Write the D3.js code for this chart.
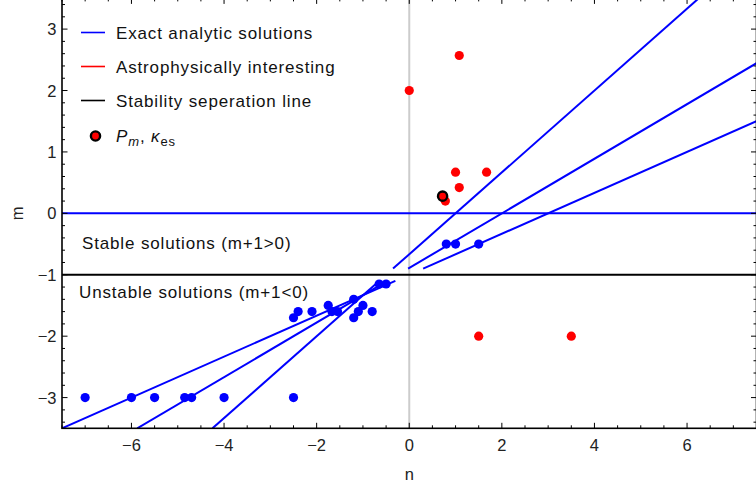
<!DOCTYPE html>
<html><head><meta charset="utf-8">
<script src="https://cdn.jsdelivr.net/npm/d3@7"></script>
<style>
body{margin:0;background:#fff;}
svg{display:block;font-family:"Liberation Sans",Arial,sans-serif;}
</style></head>
<body><div id="chart"></div>
<script>
// ---- data ----
const blueN = [-7, -6, -5.5, -4.85, -4.7, -4, -2.5,
               -2.5, -2.4, -2.1, -1.75, -1.67, -1.55, -1.2, -1.2, -1.1, -1.0, -0.8, -0.65, -0.5,
               0.8, 1.0, 1.5];
const blueM = [-3, -3, -3, -3, -3, -3, -3,
               -1.7, -1.6, -1.6, -1.5, -1.6, -1.6, -1.4, -1.7, -1.6, -1.5, -1.6, -1.15, -1.15,
               -0.5, -0.5, -0.5];
const redN = [0, 1.08, 1.0, 1.67, 1.08, 0.78, 1.5, 3.5];
const redM = [2, 2.57, 0.67, 0.67, 0.42, 0.2, -2, -2];
const pmN = [0.72];
const pmM = [0.28];
// exact analytic solutions: m = slope * (n - root)
const lineRoots = [1, 2, 3];
const lineSlopes = [2/3, 4/9, 1/3];
const segmentMRanges = [[-3.5, -1.1], [-0.9, 3.6]];
const horizLines = [{m: 0, color: "#0000ff"}, {m: -1, color: "#000000"}];
const xMajor = [-6, -4, -2, 0, 2, 4, 6];
const yMajor = [-3, -2, -1, 0, 1, 2, 3];
const legendLabels = ["Exact analytic solutions", "Astrophysically interesting", "Stability seperation line"];
const legendColors = ["#0000ff", "#ff0000", "#000000"];

// ---- layout ----
const W = 756, H = 487;
const x = d3.scaleLinear().domain([-7.5, 7.5]).range([62, 756.5]);
const y = d3.scaleLinear().domain([-3.5, 3.5]).range([428.3, -1.6]);

const svg = d3.select("#chart").append("svg").attr("width", W).attr("height", H);
svg.append("defs").append("clipPath").attr("id", "clip")
  .append("rect").attr("x", x(-7.5)).attr("y", y(3.5)).attr("width", x(7.5) - x(-7.5)).attr("height", y(-3.5) - y(3.5));

const plot = svg.append("g").attr("clip-path", "url(#clip)");

// grey axis line at n=0
plot.append("line").attr("x1", x(0)).attr("x2", x(0)).attr("y1", y(-3.5)).attr("y2", y(3.5))
  .attr("stroke", "#cccccc").attr("stroke-width", 2);

// horizontal lines
horizLines.forEach(h => {
  plot.append("line").attr("x1", x(-7.5)).attr("x2", x(7.5)).attr("y1", y(h.m)).attr("y2", y(h.m))
    .attr("stroke", h.color).attr("stroke-width", 2);
});

// analytic solution lines
lineRoots.forEach((r, i) => {
  const s = lineSlopes[i];
  segmentMRanges.forEach(([m0, m1]) => {
    plot.append("line")
      .attr("x1", x(r + m0 / s)).attr("y1", y(m0))
      .attr("x2", x(r + m1 / s)).attr("y2", y(m1))
      .attr("stroke", "#0000ff").attr("stroke-width", 2);
  });
});

// points
plot.selectAll("circle.blue").data(blueN).enter().append("circle")
  .attr("cx", d => x(d)).attr("cy", (d, i) => y(blueM[i])).attr("r", 4.6).attr("fill", "#0000ff");
plot.selectAll("circle.red").data(redN).enter().append("circle")
  .attr("cx", d => x(d)).attr("cy", (d, i) => y(redM[i])).attr("r", 4.6).attr("fill", "#ff0000");
plot.selectAll("circle.pm").data(pmN).enter().append("circle")
  .attr("cx", d => x(d)).attr("cy", (d, i) => y(pmM[i])).attr("r", 4.6)
  .attr("fill", "#ff0000").attr("stroke", "#000").attr("stroke-width", 2.4);

// frame
const fx0 = x(-7.5), fx1 = x(7.5), fy0 = y(3.5), fy1 = y(-3.5);
svg.append("rect").attr("x", fx0).attr("y", fy0).attr("width", fx1 - fx0).attr("height", fy1 - fy0)
  .attr("fill", "none").attr("stroke", "#000").attr("stroke-width", 1.6);

// ticks
const xMinor = d3.range(-7.5, 7.51, 0.5).filter(v => !xMajor.includes(v));
const yMinor = d3.range(-3.4, 3.41, 0.2).map(v => Math.round(v * 10) / 10).filter(v => !yMajor.includes(v));
const tg = svg.append("g").attr("stroke", "#000").attr("stroke-width", 1);
xMajor.forEach(v => {
  tg.append("line").attr("x1", x(v)).attr("x2", x(v)).attr("y1", fy1).attr("y2", fy1 - 5.5);
  tg.append("line").attr("x1", x(v)).attr("x2", x(v)).attr("y1", fy0).attr("y2", fy0 + 5.5);
});
xMinor.forEach(v => {
  tg.append("line").attr("x1", x(v)).attr("x2", x(v)).attr("y1", fy1).attr("y2", fy1 - 3);
  tg.append("line").attr("x1", x(v)).attr("x2", x(v)).attr("y1", fy0).attr("y2", fy0 + 3);
});
yMajor.forEach(v => {
  tg.append("line").attr("x1", fx0).attr("x2", fx0 + 5.5).attr("y1", y(v)).attr("y2", y(v));
  tg.append("line").attr("x1", fx1).attr("x2", fx1 - 5.5).attr("y1", y(v)).attr("y2", y(v));
});
yMinor.forEach(v => {
  tg.append("line").attr("x1", fx0).attr("x2", fx0 + 3).attr("y1", y(v)).attr("y2", y(v));
  tg.append("line").attr("x1", fx1).attr("x2", fx1 - 3).attr("y1", y(v)).attr("y2", y(v));
});

// tick labels
const fmt = v => (v < 0 ? "\u2212" + Math.abs(v) : String(v));
svg.append("g").selectAll("text").data(xMajor).enter().append("text")
  .attr("x", d => x(d)).attr("y", 451).attr("text-anchor", "middle")
  .attr("font-size", 16.5).attr("fill", "#222").text(fmt);
svg.append("g").selectAll("text").data(yMajor).enter().append("text")
  .attr("x", 56.5).attr("y", d => y(d) + 6).attr("text-anchor", "end")
  .attr("font-size", 16.5).attr("fill", "#222").text(fmt);

// axis titles
svg.append("text").attr("x", x(0)).attr("y", 480).attr("text-anchor", "middle")
  .attr("font-size", 16.5).attr("fill", "#222").text("n");
svg.append("text").attr("transform", `translate(23,${y(0)}) rotate(-90)`).attr("text-anchor", "middle")
  .attr("font-size", 16.5).attr("fill", "#222").text("m");

// region labels
const txtStyle = sel => sel.attr("font-size", 17).attr("letter-spacing", 0.85).attr("fill", "#111");
svg.append("text").attr("x", 82).attr("y", 249).call(txtStyle).text("Stable solutions (m+1>0)");
svg.append("text").attr("x", 79).attr("y", 297.5).call(txtStyle).text("Unstable solutions (m+1<0)");

// legend
const lg = svg.append("g");
legendLabels.forEach((t, i) => {
  const yy = 32.5 + i * 34;
  lg.append("line").attr("x1", 81).attr("x2", 105).attr("y1", yy).attr("y2", yy)
    .attr("stroke", legendColors[i]).attr("stroke-width", 1.6);
  lg.append("text").attr("x", 116).attr("y", yy + 6).call(txtStyle).text(t);
});
lg.append("circle").attr("cx", 95.5).attr("cy", 136).attr("r", 4.6)
  .attr("fill", "#ff0000").attr("stroke", "#000").attr("stroke-width", 2.4);
const pt = lg.append("text").attr("x", 116).attr("y", 142).call(txtStyle);
pt.append("tspan").attr("font-style", "italic").text("P");
pt.append("tspan").attr("font-style", "italic").attr("font-size", 13).attr("dy", 4).text("m");
pt.append("tspan").attr("dy", -4).text(", ");
pt.append("tspan").attr("font-style", "italic").text("\u03ba");
pt.append("tspan").attr("font-size", 13).attr("dy", 4).text("es");
</script>
</body></html>
